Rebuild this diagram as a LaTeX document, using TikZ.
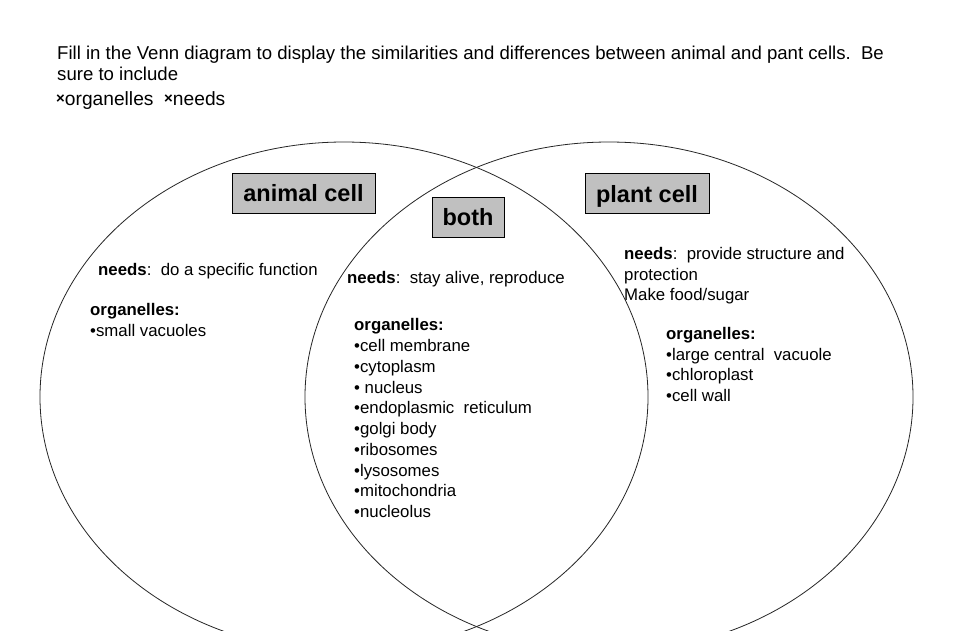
\documentclass[tikz,border=0pt]{standalone}
\usepackage{fontspec}
\setmainfont{Liberation Sans}
\definecolor{boxgray}{HTML}{C0C0C0}
\definecolor{lineclr}{HTML}{262626}
\newcommand{\xmark}{\raisebox{2pt}{\fontsize{15}{15}\selectfont\bfseries ×}}
\begin{document}
\begin{tikzpicture}[x=1pt,y=-1pt,
  venn/.style={draw=lineclr, line width=0.8pt},
  txt/.style={anchor=base west, inner sep=0pt, font=\fontsize{16.8}{20}\selectfont},
  toptxt/.style={anchor=base west, inner sep=0pt, font=\fontsize{18.6}{22}\selectfont},
  titlebox/.style={draw=black, line width=0.9pt, fill=boxgray, inner sep=0pt,
     text height=17pt, text depth=0pt, minimum height=40pt,
     font=\bfseries\fontsize{23.5}{28}\selectfont}]
\useasboundingbox (0,0) rectangle (960,630);
\fill[white] (0,0) rectangle (960,630);
% header
\node[toptxt] (h1) at (57,59) {Fill in the Venn diagram to display the similarities and differences between animal and pant cells.\ \ Be};
\node[toptxt] (h2) at (57,80) {sure to include};
\node[toptxt, font=\fontsize{19.2}{22}\selectfont] (h3) at (56,105) {\xmark organelles\ \ \xmark needs};
% circles
\begin{scope}
\clip (0,0) rectangle (960,630);
\draw[venn] (344,397) ellipse [x radius=304, y radius=255];
\draw[venn] (609,397) ellipse [x radius=304, y radius=255];
\end{scope}
% title boxes
\node[titlebox, minimum width=143pt] (animal) at (303.5,193) {animal cell};
\node[titlebox, minimum width=72pt] (both) at (468,217) {both};
\node[titlebox, minimum width=124pt] (plant) at (647,193.5) {plant cell};
% animal texts
\node[txt] (aneeds) at (98,275) {\textbf{needs}:\ \ do a specific function};
\node[txt] (aorg) at (90,315) {\textbf{organelles:}};
\node[txt] (avac) at (90,336) {•small vacuoles};
% both texts
\node[txt] (bneeds) at (347,283) {\textbf{needs}:\ \ stay alive, reproduce};
\node[txt] (borg) at (354,330) {\textbf{organelles:}};
\foreach \t [count=\i] in {•cell membrane,•cytoplasm,• nucleus,•endoplasmic\ \ reticulum,•golgi body,•ribosomes,•lysosomes,•mitochondria,•nucleolus}
  \node[txt] (bitem\i) at (354,{351.5+20.75*(\i-1)}) {\t};
% plant texts
\node[txt] (pneeds) at (624,259) {\textbf{needs}:\ \ provide structure and};
\node[txt] (pprot) at (624,280) {protection};
\node[txt] (pfood) at (624,300) {Make food/sugar};
\node[txt] (porg) at (666,339) {\textbf{organelles:}};
\node[txt] (pvac) at (666,360) {•large central\ \ vacuole};
\node[txt] (pchl) at (666,380) {•chloroplast};
\node[txt] (pwall) at (666,401) {•cell wall};
\end{tikzpicture}
\end{document}
